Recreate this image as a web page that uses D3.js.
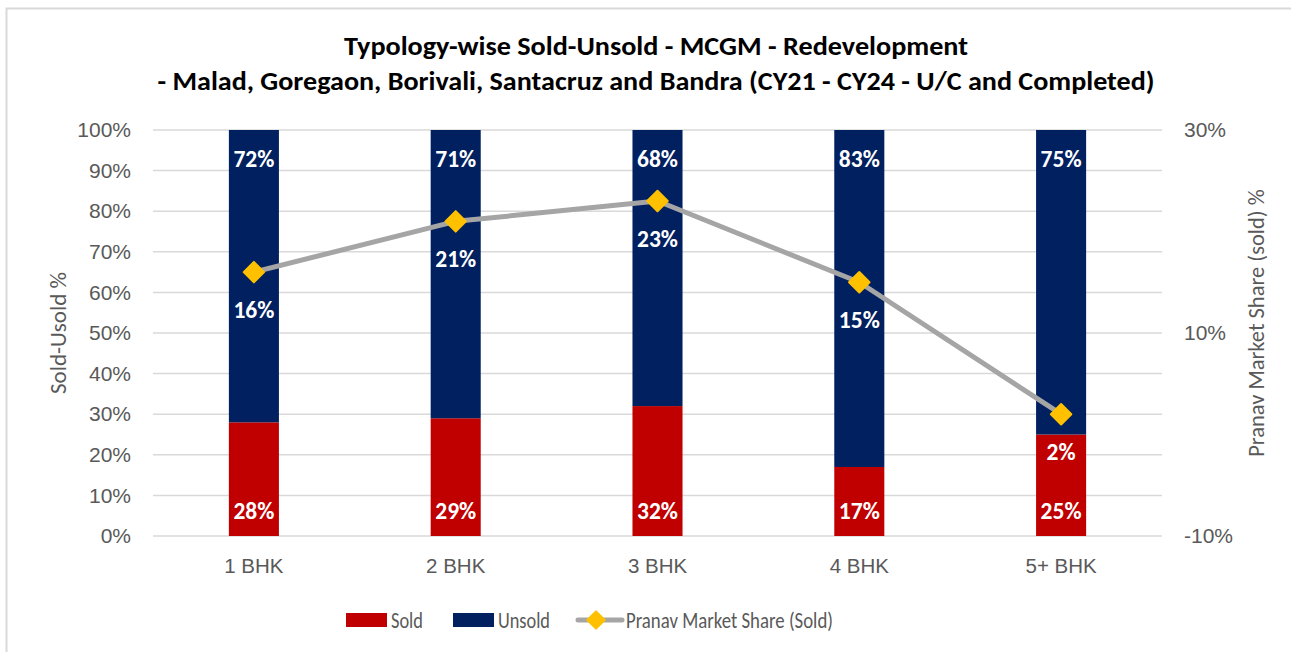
<!DOCTYPE html>
<html>
<head>
<meta charset="utf-8">
<script src="https://cdn.jsdelivr.net/npm/d3@7/dist/d3.min.js"></script>
<style>
  html, body { margin: 0; padding: 0; background: #fff; }
  svg { display: block; font-family: Carlito, Calibri, Lato, "Open Sans", sans-serif; }
</style>
</head>
<body>
<svg id="chart" width="1291" height="652"></svg>
<script>
// Typology categories and series (percent)
const categories = ["1 BHK", "2 BHK", "3 BHK", "4 BHK", "5+ BHK"];
const soldPct = [28, 29, 32, 17, 25];
const unsoldPct = [72, 71, 68, 83, 75];
const marketShare = [16, 21, 23, 15, 2];
const leftTicks = [0, 10, 20, 30, 40, 50, 60, 70, 80, 90, 100];
const rightTicks = [-10, 10, 30];

const titleLines = [
  "Typology-wise Sold-Unsold - MCGM - Redevelopment",
  "- Malad, Goregaon, Borivali, Santacruz and Bandra (CY21 - CY24 - U/C and Completed)"
];
const titleWidths = [624, 997];

const svg = d3.select("#chart");
const W = 1291, H = 652;
const plot = { left: 153, right: 1162, top: 130, bottom: 536 };

const colors = { sold: "#c00000", unsold: "#002060", line: "#a5a5a5", marker: "#ffc000",
                 grid: "#d9d9d9", text: "#595959" };

// chart frame (top and left edges visible)
svg.append("rect")
  .attr("x", 6.5).attr("y", 8.5)
  .attr("width", W + 10).attr("height", H + 10)
  .attr("fill", "#fff").attr("stroke", "#d9d9d9").attr("stroke-width", 2);

// title
svg.append("g").selectAll("text").data(titleLines).join("text")
  .attr("x", 656).attr("y", (d, i) => 55 + i * 35)
  .attr("text-anchor", "middle")
  .attr("font-size", 26).attr("font-weight", "bold").attr("fill", "#000")
  .attr("textLength", (d, i) => titleWidths[i]).attr("lengthAdjust", "spacingAndGlyphs")
  .text(d => d);

const x = d3.scaleBand().domain(categories).range([plot.left, plot.right]).paddingInner(0.752).paddingOuter(0.376);
const y = d3.scaleLinear().domain([0, 100]).range([plot.bottom, plot.top]);
const y2 = d3.scaleLinear().domain([-10, 30]).range([plot.bottom, plot.top]);

// gridlines
svg.append("g").selectAll("line").data(leftTicks).join("line")
  .attr("x1", plot.left).attr("x2", plot.right)
  .attr("y1", d => y(d)).attr("y2", d => y(d))
  .attr("stroke", colors.grid).attr("stroke-width", 1.5);

// left axis
const yAxis = d3.axisLeft(y).tickValues(leftTicks).tickFormat(d => d + "%").tickSize(0).tickPadding(22);
const gl = svg.append("g").attr("transform", `translate(${plot.left},0)`).call(yAxis);
gl.select(".domain").remove();
gl.selectAll("text").attr("font-size", 21).attr("fill", colors.text).attr("font-family", null);

// right axis
const y2Axis = d3.axisRight(y2).tickValues(rightTicks).tickFormat(d => d + "%").tickSize(0).tickPadding(22);
const gr = svg.append("g").attr("transform", `translate(${plot.right},0)`).call(y2Axis);
gr.select(".domain").remove();
gr.selectAll("text").attr("font-size", 21).attr("fill", colors.text).attr("font-family", null);

// x axis labels
const xAxis = d3.axisBottom(x).tickSize(0).tickPadding(22);
const gx = svg.append("g").attr("transform", `translate(0,${plot.bottom})`).call(xAxis);
gx.select(".domain").remove();
gx.selectAll("text").attr("font-size", 20.5).attr("fill", colors.text).attr("font-family", null);

// axis titles
svg.append("text")
  .attr("transform", `translate(66,${(plot.top + plot.bottom) / 2}) rotate(-90)`)
  .attr("text-anchor", "middle").attr("font-size", 23).attr("fill", colors.text)
  .text("Sold-Usold %");
svg.append("text")
  .attr("transform", `translate(1264,${(plot.top + plot.bottom) / 2 - 10}) rotate(-90)`)
  .attr("text-anchor", "middle").attr("font-size", 22.5).attr("fill", colors.text)
  .text("Pranav Market Share (sold) %");

// stacked bars
const rows = categories.map((c, i) => ({ cat: c, sold: soldPct[i], unsold: unsoldPct[i], share: marketShare[i] }));
const bars = svg.append("g");
bars.selectAll(".sold").data(rows).join("rect").attr("class", "sold")
  .attr("x", d => x(d.cat)).attr("width", x.bandwidth())
  .attr("y", d => y(d.sold)).attr("height", d => y(0) - y(d.sold))
  .attr("fill", colors.sold);
bars.selectAll(".unsold").data(rows).join("rect").attr("class", "unsold")
  .attr("x", d => x(d.cat)).attr("width", x.bandwidth())
  .attr("y", d => y(d.sold + d.unsold)).attr("height", d => y(d.sold) - y(d.sold + d.unsold))
  .attr("fill", colors.unsold);

// bar value labels (positioned by their vertical centre)
const lblSize = 23.5;
const base = c => c + lblSize * 0.36;
const labelStyle = sel => sel.attr("text-anchor", "middle").attr("font-size", lblSize)
  .attr("font-weight", "bold").attr("fill", "#fff");
bars.selectAll(".soldLbl").data(rows).join("text").attr("class", "soldLbl")
  .attr("x", d => x(d.cat) + x.bandwidth() / 2).attr("y", base(y(0) - 25))
  .call(labelStyle).text(d => d.sold + "%");
bars.selectAll(".unsoldLbl").data(rows).join("text").attr("class", "unsoldLbl")
  .attr("x", d => x(d.cat) + x.bandwidth() / 2).attr("y", d => base(y(d.sold + d.unsold) + 29))
  .call(labelStyle).text(d => d.unsold + "%");

// market share line
const cx = d => x(d.cat) + x.bandwidth() / 2;
const line = d3.line().x(cx).y(d => y2(d.share));
svg.append("path").datum(rows)
  .attr("d", line).attr("fill", "none")
  .attr("stroke", colors.line).attr("stroke-width", 5).attr("stroke-linejoin", "round");

const diamond = d3.symbol().type(d3.symbolSquare).size(210);
svg.append("g").selectAll("path").data(rows).join("path")
  .attr("d", diamond)
  .attr("transform", d => `translate(${cx(d)},${y2(d.share)}) rotate(45)`)
  .attr("fill", colors.marker).attr("stroke", colors.marker).attr("stroke-width", 2).attr("stroke-linejoin", "round");

svg.append("g").selectAll("text").data(rows).join("text")
  .attr("x", cx).attr("y", d => base(y2(d.share) + 37))
  .call(labelStyle).text(d => d.share + "%");

// legend
const legend = svg.append("g").attr("font-size", 22.5).attr("fill", colors.text);
legend.append("rect").attr("x", 346).attr("y", 613).attr("width", 41).attr("height", 14).attr("fill", colors.sold);
legend.append("text").attr("x", 391).attr("y", 628)
  .attr("textLength", 32).attr("lengthAdjust", "spacingAndGlyphs").text("Sold");
legend.append("rect").attr("x", 453).attr("y", 613).attr("width", 41).attr("height", 14).attr("fill", colors.unsold);
legend.append("text").attr("x", 498).attr("y", 628)
  .attr("textLength", 52).attr("lengthAdjust", "spacingAndGlyphs").text("Unsold");
legend.append("line").attr("x1", 578).attr("x2", 622).attr("y1", 620).attr("y2", 620)
  .attr("stroke", colors.line).attr("stroke-width", 5).attr("stroke-linecap", "round");
legend.append("path").attr("d", d3.symbol().type(d3.symbolSquare).size(150))
  .attr("transform", "translate(596,620) rotate(45)")
  .attr("fill", colors.marker).attr("stroke", colors.marker).attr("stroke-width", 2).attr("stroke-linejoin", "round");
legend.append("text").attr("x", 626).attr("y", 628)
  .attr("textLength", 207).attr("lengthAdjust", "spacingAndGlyphs")
  .text("Pranav Market Share (Sold)");
</script>
</body>
</html>
